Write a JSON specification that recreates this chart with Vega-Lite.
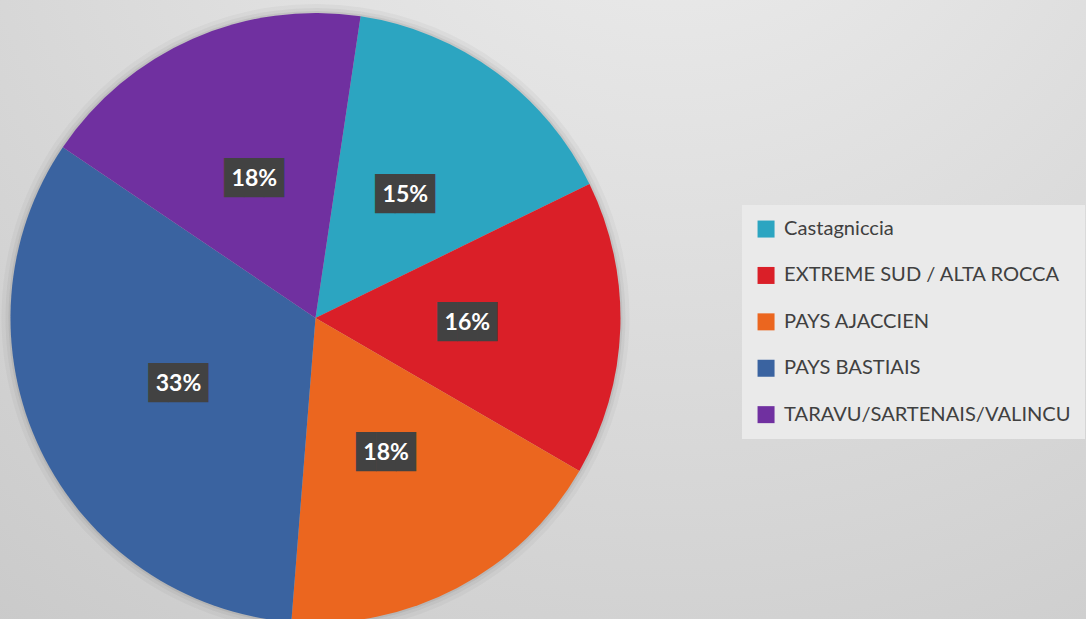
{
  "$schema": "https://vega.github.io/schema/vega-lite/v6.json",
  "width": 1086,
  "height": 619,
  "autosize": {"type": "none"},
  "padding": 0,
  "background": "#d8d8d8",
  "config": {
    "view": {
      "stroke": null,
      "fill": {"gradient": "radial", "x1": 0.62, "y1": 0, "r1": 0, "x2": 0.62, "y2": 0, "r2": 1.2,
        "stops": [{"offset": 0, "color": "#efefef"}, {"offset": 1, "color": "#c3c3c3"}]}
    }
  },
  "data": {
    "values": [
      {"name": "Castagniccia", "value": 15.4, "label": "15%", "order": 1},
      {"name": "EXTREME SUD / ALTA ROCCA", "value": 15.6, "label": "16%", "order": 2},
      {"name": "PAYS AJACCIEN", "value": 17.9, "label": "18%", "order": 3},
      {"name": "PAYS BASTIAIS", "value": 33.2, "label": "33%", "order": 4},
      {"name": "TARAVU/SARTENAIS/VALINCU", "value": 17.9, "label": "18%", "order": 5}
    ]
  },
  "encoding": {
    "x": {"datum": 0.2905, "type": "quantitative", "scale": {"domain": [0, 1]}, "axis": null},
    "y": {"datum": 0.4863, "type": "quantitative", "scale": {"domain": [0, 1]}, "axis": null},
    "theta": {"field": "value", "type": "quantitative", "stack": true, "scale": {"range": [0.1484, 6.4316]}},
    "order": {"field": "order", "type": "quantitative"}
  },
  "layer": [
    {
      "mark": {"type": "arc", "outerRadius": 314, "color": "#000000", "opacity": 0.03}
    },
    {
      "mark": {"type": "arc", "outerRadius": 310, "color": "#000000", "opacity": 0.04}
    },
    {
      "mark": {"type": "arc", "outerRadius": 307, "color": "#000000", "opacity": 0.06}
    },
    {
      "mark": {"type": "arc", "outerRadius": 305},
      "encoding": {
        "color": {
          "field": "name", "type": "nominal",
          "scale": {
            "domain": ["Castagniccia", "EXTREME SUD / ALTA ROCCA", "PAYS AJACCIEN", "PAYS BASTIAIS", "TARAVU/SARTENAIS/VALINCU"],
            "range": ["#2ca5c1", "#da1f28", "#eb661f", "#3a63a0", "#7030a0"]
          },
          "legend": {
            "orient": "none", "legendX": 742, "legendY": 205, "title": null,
            "symbolType": "square", "symbolSize": 289, "symbolStrokeWidth": 0,
            "labelFont": "Lato", "labelFontSize": 20.1, "labelColor": "#404040",
            "rowPadding": 25.4, "padding": 14, "fillColor": "#eaeaea",
            "labelOffset": 8, "labelLimit": 400
          }
        }
      }
    },
    {
      "mark": {"type": "text", "radius": 152, "font": "DejaVu Sans Mono", "fontSize": 33, "color": "#424242", "text": "███"}
    },
    {
      "mark": {"type": "text", "radius": 152, "font": "Lato", "fontWeight": "bold", "fontSize": 23, "color": "white"},
      "encoding": {"text": {"field": "label"}}
    }
  ]
}
